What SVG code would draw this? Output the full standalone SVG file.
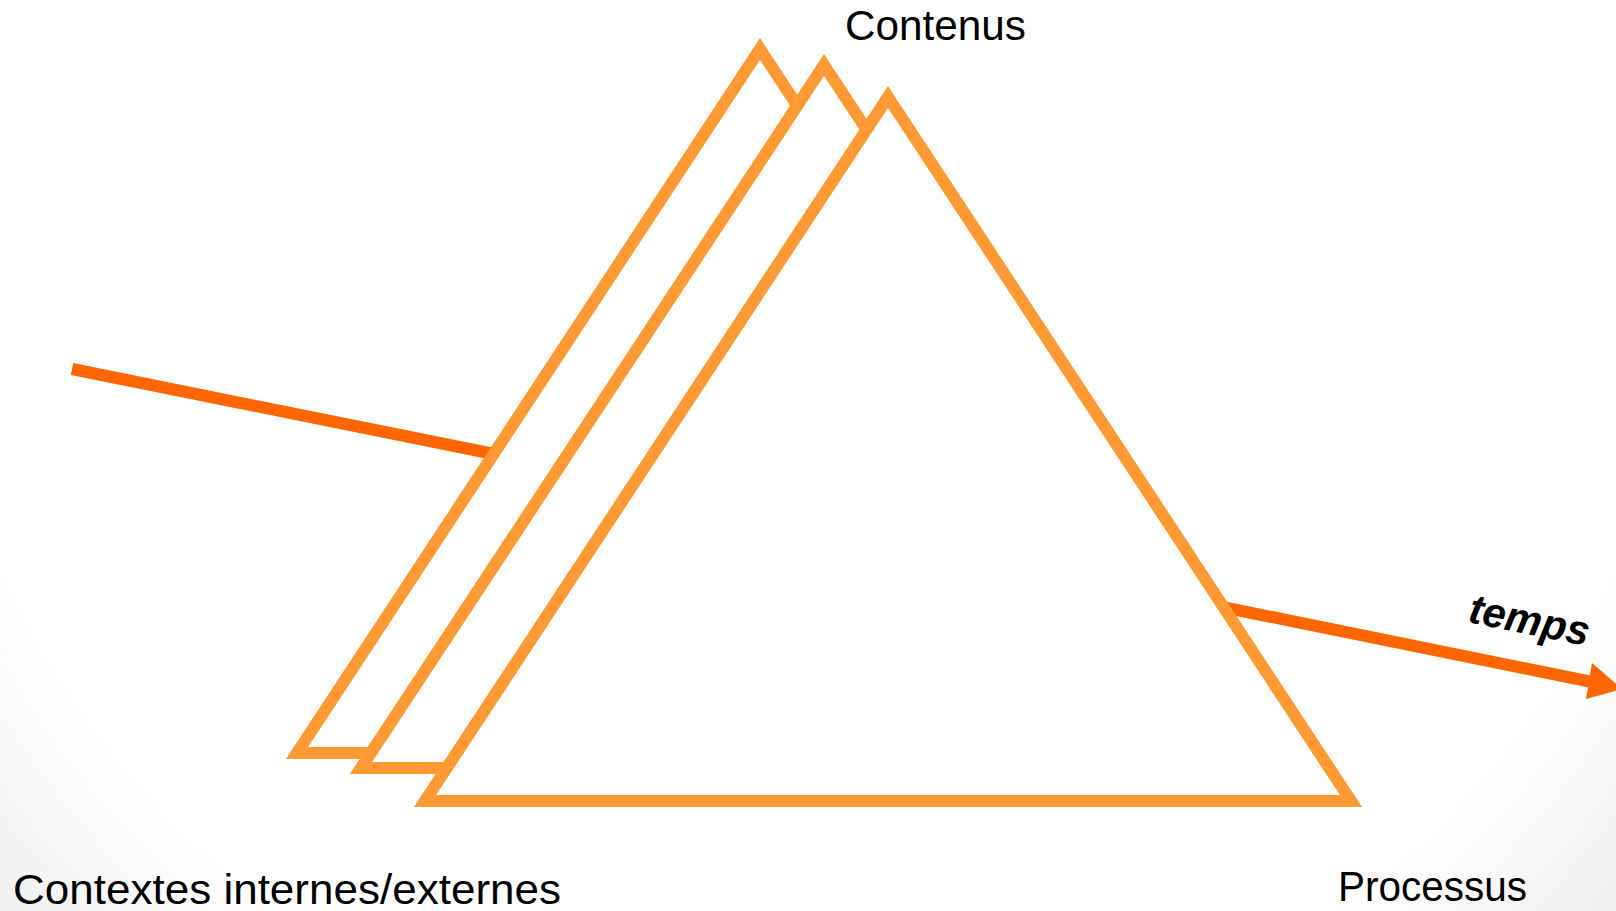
<svg xmlns="http://www.w3.org/2000/svg" width="1616" height="911" viewBox="0 0 1616 911">
<defs>
<radialGradient id="bg" gradientUnits="userSpaceOnUse" cx="808" cy="200" r="1100">
<stop offset="0" stop-color="#ffffff"/>
<stop offset="0.8" stop-color="#ffffff"/>
<stop offset="1" stop-color="#eeeeee"/>
</radialGradient>
<clipPath id="page"><rect x="0" y="0" width="1616" height="911"/></clipPath>
</defs>
<style>
.tri{fill:#ffffff;stroke:#FF9933;stroke-width:12;stroke-linejoin:miter;stroke-miterlimit:10}
.ray{fill:none;stroke:#FF6600;stroke-width:12;stroke-linecap:butt}
.head{fill:#FF6600}
.lbl{font-family:"Liberation Sans",Arial,sans-serif;font-size:42px;fill:#000000}
.bi{font-family:"Liberation Sans",Arial,sans-serif;font-size:42px;font-weight:bold;font-style:italic;fill:#000000}
</style>
<rect x="0" y="0" width="1616" height="911" fill="url(#bg)"/>
<g id="connectors" clip-path="url(#page)">
<line class="ray" x1="72" y1="369" x2="494" y2="454"/>
<line class="ray" x1="1222" y1="607" x2="1592" y2="682"/>
<polygon class="head" points="1622,689 1592,663 1586,699"/>
</g>
<g id="prism-back">
<polygon class="tri" points="760,49 1223,753 297,753"/>
</g>
<g id="prism-middle">
<polygon class="tri" points="824,65 1287,768 361,768"/>
</g>
<g id="prism-front">
<polygon class="tri" points="888,97 1351,801 425,801"/>
</g>
<g id="label-contenus">
<text class="lbl" x="845" y="40" textLength="181" lengthAdjust="spacingAndGlyphs">Contenus</text>
</g>
<g id="label-contextes">
<text class="lbl" x="13" y="904" textLength="548" lengthAdjust="spacingAndGlyphs">Contextes internes/externes</text>
</g>
<g id="label-processus">
<text class="lbl" x="1338" y="901" textLength="189" lengthAdjust="spacingAndGlyphs">Processus</text>
</g>
<g id="label-temps">
<text class="bi" transform="translate(1467,622) rotate(11.3)" x="0" y="0" textLength="122" lengthAdjust="spacingAndGlyphs">temps</text>
</g>
</svg>
